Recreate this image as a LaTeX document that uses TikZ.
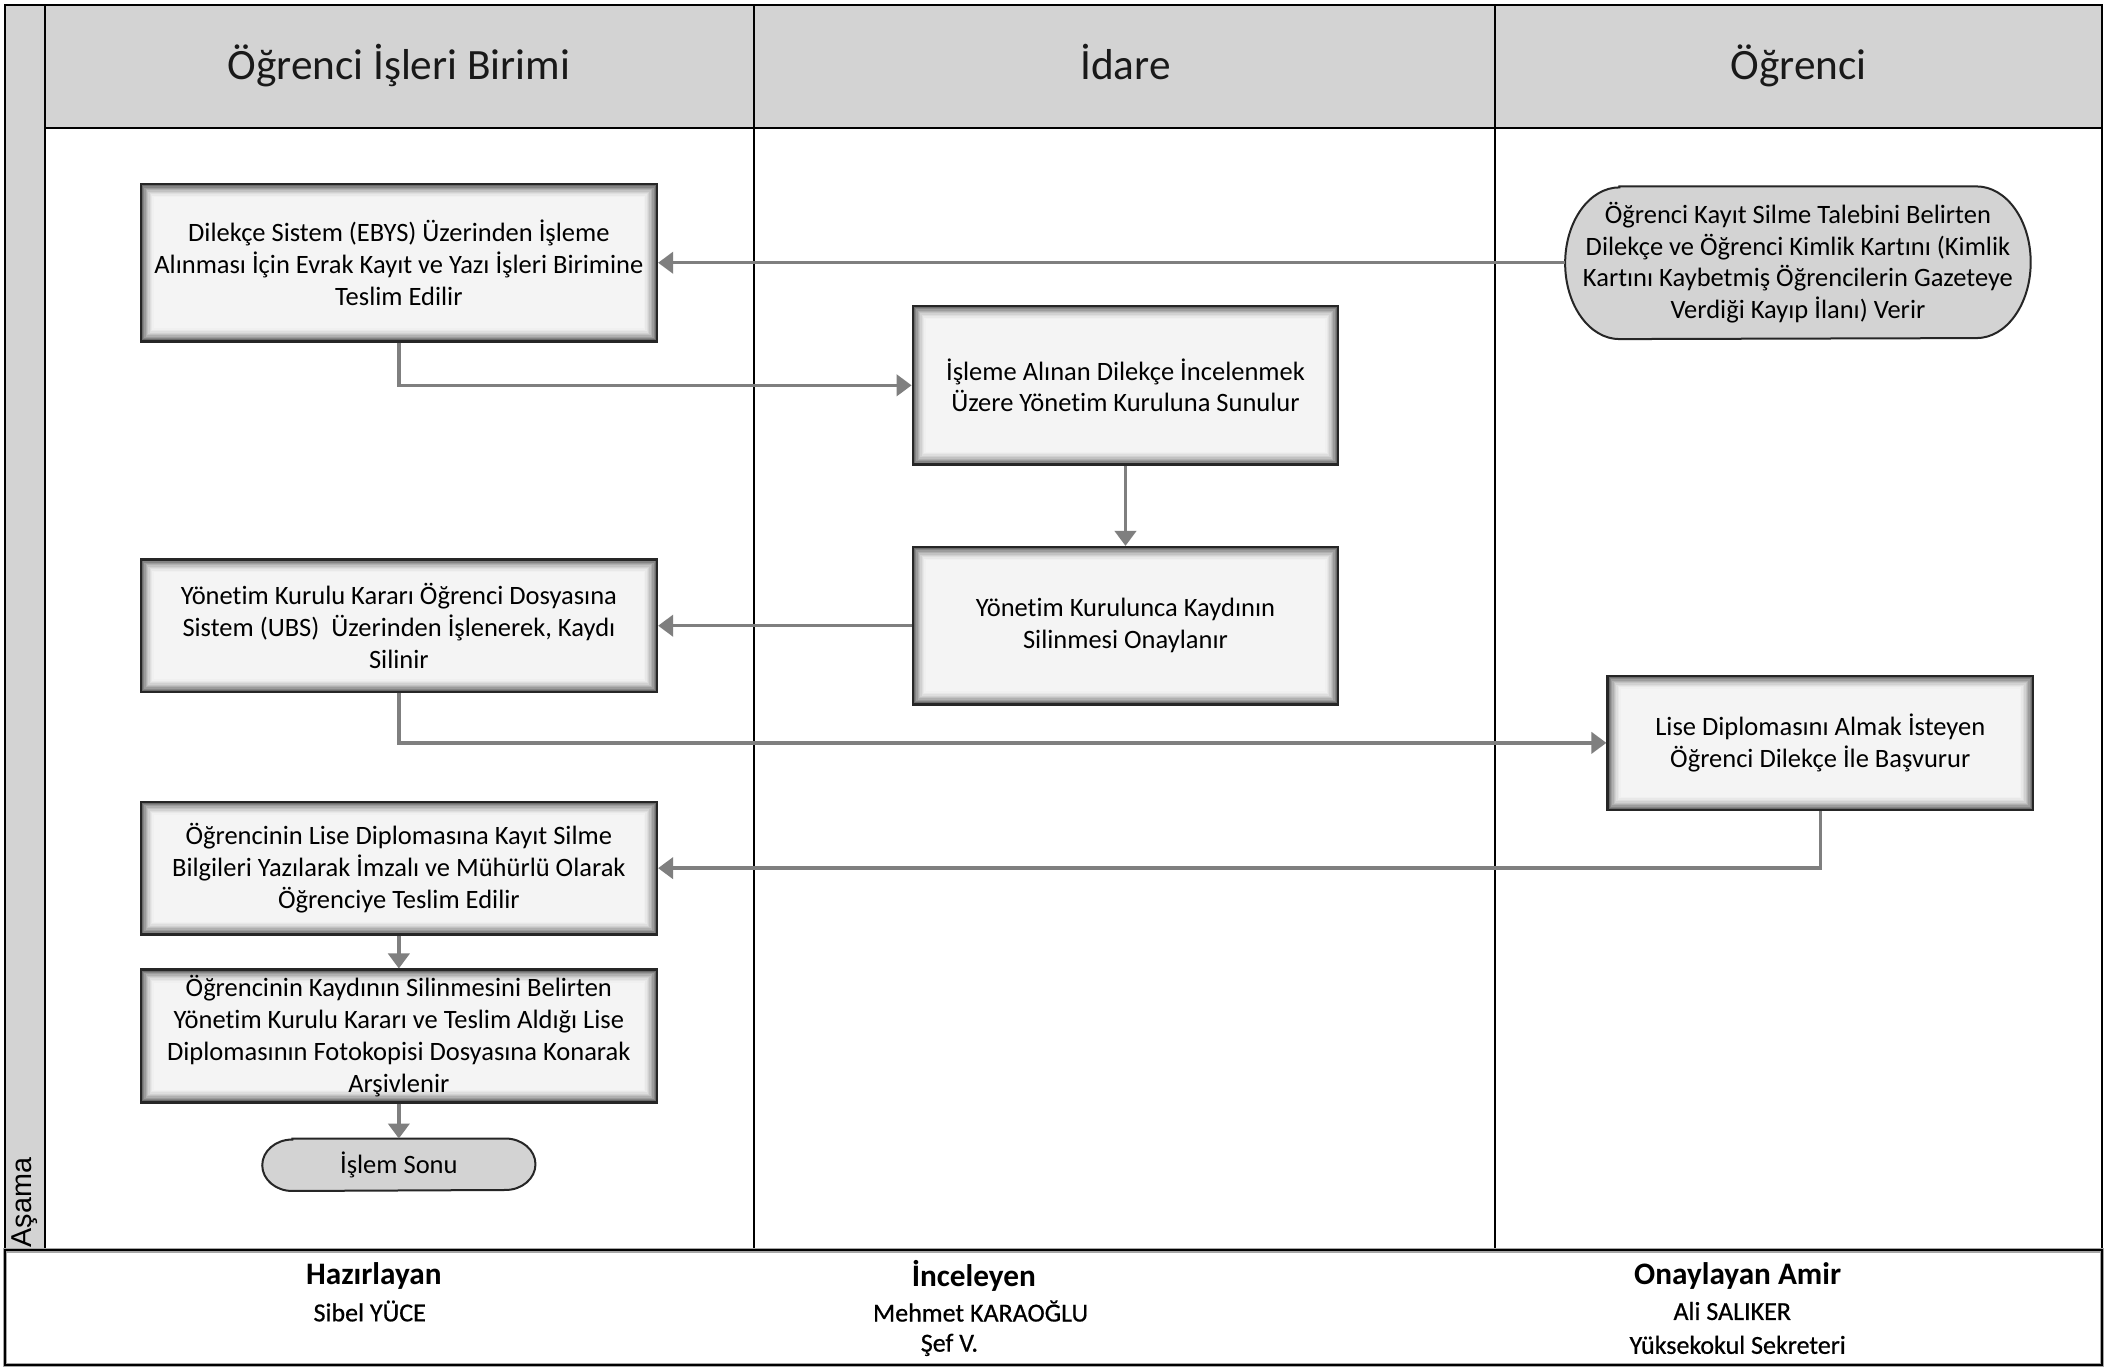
\documentclass[tikz,border=0pt]{standalone}
\usepackage{fontspec}
\setmainfont{Carlito}[Ligatures=NoCommon]
\newfontfamily\arialf{Liberation Sans}
\newfontfamily\namefont[FakeBold=0.6,Ligatures=NoCommon]{Carlito}
\usetikzlibrary{arrows.meta}
\def\U{0.5416pt}
\definecolor{hdrgray}{HTML}{D3D3D3}
\definecolor{arrgray}{HTML}{7F7F7F}
\definecolor{boxfill}{HTML}{F4F4F4}
\pgfdeclarelayer{bg}
\pgfdeclarelayer{mid}
\pgfsetlayers{bg,mid,main}
% stadium outline behind a named node: #1 node, #2 x radius, #3 y radius
\newcommand\stadiumline[3]{%
  \begin{pgfonlayer}{mid}
  \path[draw=black!85,line width=0.8pt,fill=hdrgray]
    ([xshift=#2]#1.north west) -- ([xshift=-#2]#1.north east)
    arc[start angle=90,end angle=-90,x radius=#2,y radius=#3]
    -- ([xshift=#2]#1.south west)
    arc[start angle=270,end angle=90,x radius=#2,y radius=#3] -- cycle;
  \end{pgfonlayer}}
\begin{document}
\begin{tikzpicture}[x=0.5416pt,y=-0.5416pt,
  frameline/.style={draw=black,line width=0.75pt},
  hdrtext/.style={font=\fontsize{17.3}{20}\selectfont,text=black!90,anchor=base},
  proc/.style={rectangle,draw=black!85,line width=1pt,fill=boxfill,align=center,
    font=\fontsize{10.6}{12.7}\selectfont,inner sep=2pt,
    path picture={
      \foreach \i/\c in {1/58,2/48,3/39,4/31,5/24,6/18,7/13,8/9,9/6}{
        \draw[black!\c,line width=1.1*\U]
          ([shift={(\i,\i)}]path picture bounding box.north west) rectangle
          ([shift={(-\i,-\i)}]path picture bounding box.south east);}
    }},
  termtext/.style={rectangle,align=center,font=\fontsize{10.6}{12.7}\selectfont,inner sep=0pt},
  arr/.style={draw=arrgray,line width=1.35pt,-{Triangle[length=6pt,width=8.5pt]}},
  foottitle/.style={font=\bfseries\fontsize{12.5}{14}\selectfont},
  footname/.style={font=\namefont\fontsize{10.4}{12}\selectfont}
]
\useasboundingbox (0,0) rectangle (1569,1009.6);
\begin{pgfonlayer}{bg}
\fill[white] (0,0) rectangle (1569,1009.6);
\fill[hdrgray] (33,3.7) rectangle (1551.7,94.5);
\fill[hdrgray] (3.8,3.7) rectangle (33,923.2);
\end{pgfonlayer}
\draw[frameline] (3.8,3.7) rectangle (1551.7,923.2);
\draw[frameline] (33,3.7) -- (33,923.2);
\draw[frameline] (33,94.5) -- (1551.7,94.5);
\draw[frameline] (557,3.7) -- (557,923.2);
\draw[frameline] (1104,3.7) -- (1104,923.2);
\node[hdrtext] (h1) at (294.5,59) {Öğrenci İşleri Birimi};
\node[hdrtext] (h2) at (831,59) {İdare};
\node[hdrtext] (h3) at (1328,59) {Öğrenci};
\node[rotate=90,font=\arialf\fontsize{11.5}{13}\selectfont,inner sep=0pt] (asama) at (18.5,888) {Aşama};
% footer
\draw[black!35,line width=1.8pt] (3.8,923.2) rectangle (1552,1008);
\draw[black,line width=0.75pt] (3.8,923.2) rectangle (1552,1008);
\node[foottitle] (f1) at (276,942) {Hazırlayan};
\node[footname] (f1a) at (273,968) {Sibel YÜCE};
\node[foottitle] (f2) at (719,942) {İnceleyen};
\node[footname] (f2a) at (724,968) {Mehmet KARAOĞLU};
\node[footname] (f2b) at (701,993) {Şef V.};
\node[foottitle] (f3) at (1283,942) {Onaylayan Amir};
\node[footname] (f3a) at (1279,968) {Ali SALIKER};
\node[footname] (f3b) at (1283,993) {Yüksekokul Sekreteri};
% process nodes
\node[termtext,minimum width={343*\U},minimum height={112*\U}] (start) at (1327.5,194)
  {Öğrenci Kayıt Silme Talebini Belirten\\Dilekçe ve Öğrenci Kimlik Kartını (Kimlik\\Kartını Kaybetmiş Öğrencilerin Gazeteye\\Verdiği Kayıp İlanı) Verir};
\stadiumline{start}{21.7pt}{30.33pt}
\node[proc,minimum width={381*\U},minimum height={116*\U}] (b1) at (294.5,194)
  {Dilekçe Sistem (EBYS) Üzerinden İşleme\\Alınması İçin Evrak Kayıt ve Yazı İşleri Birimine\\Teslim Edilir};
\node[proc,minimum width={314*\U},minimum height={117*\U}] (b2) at (831,284.5)
  {İşleme Alınan Dilekçe İncelenmek\\Üzere Yönetim Kuruluna Sunulur};
\node[proc,minimum width={314*\U},minimum height={116*\U}] (b3) at (831,462)
  {Yönetim Kurulunca Kaydının\\Silinmesi Onaylanır};
\node[proc,minimum width={381*\U},minimum height={98*\U}] (b4) at (294.5,462)
  {Yönetim Kurulu Kararı Öğrenci Dosyasına\\Sistem (UBS) \ Üzerinden İşlenerek, Kaydı\\Silinir};
\node[proc,minimum width={314*\U},minimum height={99*\U}] (b5) at (1344,548.5)
  {Lise Diplomasını Almak İsteyen\\Öğrenci Dilekçe İle Başvurur};
\node[proc,minimum width={381*\U},minimum height={98*\U}] (b6) at (294.5,641)
  {Öğrencinin Lise Diplomasına Kayıt Silme\\Bilgileri Yazılarak İmzalı ve Mühürlü Olarak\\Öğrenciye Teslim Edilir};
\node[proc,minimum width={381*\U},minimum height={98*\U}] (b7) at (294.5,765)
  {Öğrencinin Kaydının Silinmesini Belirten\\Yönetim Kurulu Kararı ve Teslim Aldığı Lise\\Diplomasının Fotokopisi Dosyasına Konarak\\Arşivlenir};
\node[termtext,minimum width={201*\U},minimum height={38*\U}] (end) at (294.5,860) {İşlem Sonu};
\stadiumline{end}{12pt}{10.29pt}
% connectors
\draw[arr] (start.west) -- (b1.east);
\draw[arr] (b1.south) |- (b2.west);
\draw[arr] (b2.south) -- (b3.north);
\draw[arr] (b3.west) -- (b4.east);
\draw[arr] (b4.south) |- (b5.west);
\draw[arr] (b5.south) |- (b6.east);
\draw[arr] (b6.south) -- (b7.north);
\draw[arr] (b7.south) -- (end.north);
\end{tikzpicture}
\end{document}
